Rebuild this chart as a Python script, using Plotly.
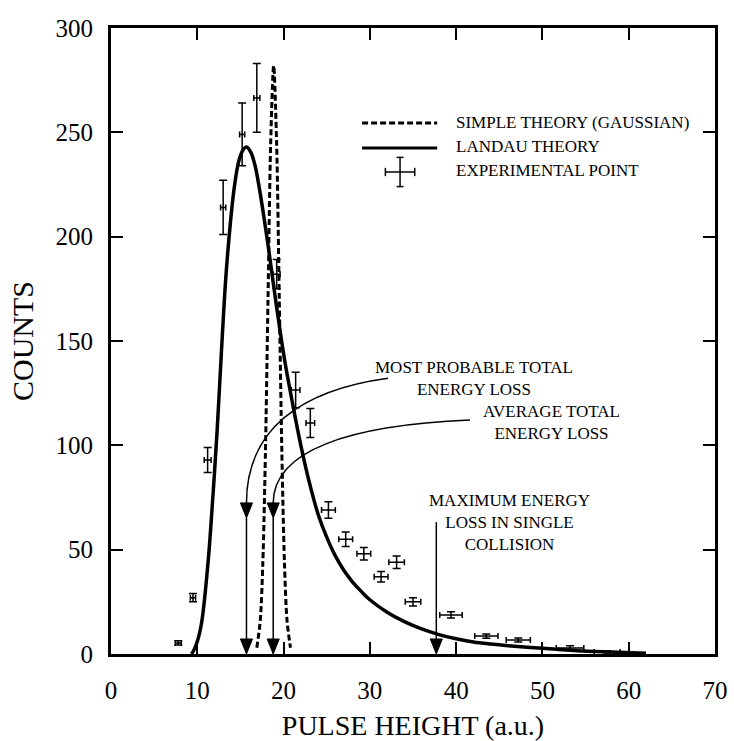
import plotly.graph_objects as go

# ---------------- data ----------------
landau_x = [9.3, 9.5, 10.0, 10.5, 11.25, 11.8, 12.3, 12.8, 13.3, 13.8, 14.3, 14.8, 15.3, 15.7,
            16.2, 16.7, 17.2, 17.7, 18.2, 18.7, 19.2, 19.7, 20.2, 21.0, 22.0, 23.0, 24.0,
            25.0, 26.0, 27.0, 28.0, 29.0, 30.0, 32.0, 34.0, 36.0, 38.0, 40.0, 42.0, 44.0,
            46.0, 50.0, 54.0, 58.0, 62.0]
landau_y = [0, 1, 6, 15, 44, 75, 107, 145, 180, 205, 224, 236, 241.5, 243,
            240.5, 234, 223, 210, 196, 181, 166, 152, 139, 121, 100, 82, 67,
            56, 47, 40, 34.5, 30, 26, 20, 15.5, 12, 9.3, 7.3, 5.8, 4.8,
            4.0, 2.7, 1.6, 0.9, 0.3]

gauss_x = [16.9, 17.3, 17.6, 17.9, 18.2, 18.5, 18.85, 19.2, 19.5, 19.8, 20.1, 20.4, 20.8]
gauss_y = [3, 16, 44, 97, 171, 244, 282, 244, 171, 97, 44, 16, 3]

exp_x = [7.8, 9.5, 11.2, 13.0, 15.2, 16.9, 19.2, 21.4, 23.1, 25.2, 27.2, 29.3, 31.3,
         33.1, 35.0, 39.4, 43.5, 47.2, 53.2, 57.5]
exp_y = [5.3, 27, 93, 214, 249, 266.5, 182, 126.5, 110.7, 69, 55, 48, 37,
         44, 25, 18.7, 8.6, 6.7, 2.9, 1.0]
exp_xerr = [0.35, 0.3, 0.4, 0.3, 0.3, 0.35, 0.4, 0.5, 0.5, 0.8, 0.8, 0.8, 0.8,
            0.9, 0.9, 1.3, 1.35, 1.4, 1.6, 1.5]
exp_yerr = [1, 2, 6, 13, 15, 16.5, 7, 8.5, 7, 4, 3.5, 3, 2.5,
            3, 2, 1.5, 1, 1, 1, 0.5]

x_ticks = [0, 10, 20, 30, 40, 50, 60, 70]
y_ticks = [0, 50, 100, 150, 200, 250, 300]

legend_labels = ["SIMPLE THEORY (GAUSSIAN)", "LANDAU THEORY", "EXPERIMENTAL POINT"]

most_probable_x = 15.7
average_x = 18.8
max_loss_x = 37.7

FONT = "Liberation Serif"

fig = go.Figure()

fig.add_trace(go.Scatter(x=landau_x, y=landau_y, mode="lines",
                         line=dict(color="black", width=3.5, shape="spline", smoothing=1.0),
                         showlegend=False, hoverinfo="skip"))
fig.add_trace(go.Scatter(x=gauss_x, y=gauss_y, mode="lines",
                         line=dict(color="black", width=3, dash="6px,3px", shape="spline", smoothing=0.8),
                         showlegend=False, hoverinfo="skip"))
fig.add_trace(go.Scatter(x=exp_x, y=exp_y, mode="markers",
                         marker=dict(size=2, color="black"),
                         error_x=dict(type="data", array=exp_xerr, visible=True, color="black",
                                      thickness=1.5, width=3),
                         error_y=dict(type="data", array=exp_yerr, visible=True, color="black",
                                      thickness=1.5, width=4),
                         showlegend=False, hoverinfo="skip"))

shapes = []
# curved leader lines
shapes.append(dict(type="path", xref="x", yref="y",
                   path=f"M 32.1,132.2 C 21.9,126.5 {most_probable_x},107.3 {most_probable_x},72.4",
                   line=dict(color="black", width=1.5)))
shapes.append(dict(type="path", xref="x", yref="y",
                   path=f"M 41.6,112.1 C 27.7,109.7 {average_x},97.7 {average_x},72.4",
                   line=dict(color="black", width=1.5)))


def tri(xc, ytop, ytip, hw=0.7):
    return dict(type="path", xref="x", yref="y",
                path=f"M {xc-hw},{ytop} L {xc+hw},{ytop} L {xc},{ytip} Z",
                fillcolor="black", line=dict(color="black", width=1))


for xc in (most_probable_x, average_x):
    shapes.append(tri(xc, 72.4, 65.2))
    shapes.append(dict(type="line", xref="x", yref="y", x0=xc, x1=xc, y0=65.2, y1=5,
                       line=dict(color="black", width=1.5)))
    shapes.append(tri(xc, 7.2, 0))
shapes.append(dict(type="line", xref="x", yref="y", x0=max_loss_x, x1=max_loss_x, y0=63.2, y1=5,
                   line=dict(color="black", width=1.5)))
shapes.append(tri(max_loss_x, 7.2, 0))

# legend glyphs
shapes.append(dict(type="line", xref="x", yref="y", x0=29.1, x1=37.8, y0=254.5, y1=254.5,
                   line=dict(color="black", width=3, dash="6px,3px")))
shapes.append(dict(type="line", xref="x", yref="y", x0=29.1, x1=37.8, y0=242.5, y1=242.5,
                   line=dict(color="black", width=3)))
shapes.append(dict(type="line", xref="x", yref="y", x0=31.8, x1=35.2, y0=231, y1=231,
                   line=dict(color="black", width=1.5)))
shapes.append(dict(type="line", xref="x", yref="y", x0=33.5, x1=33.5, y0=224, y1=238,
                   line=dict(color="black", width=1.5)))
for xe in (31.8, 35.2):
    shapes.append(dict(type="line", xref="x", yref="y", x0=xe, x1=xe, y0=229, y1=233,
                       line=dict(color="black", width=1.5)))
for ye in (224, 238):
    shapes.append(dict(type="line", xref="x", yref="y", x0=33.1, x1=33.9, y0=ye, y1=ye,
                       line=dict(color="black", width=1.5)))

annotations = []
for lab, yy in zip(legend_labels, (254.5, 243, 231.5)):
    annotations.append(dict(x=39.7, y=yy, xref="x", yref="y", text=lab, showarrow=False,
                            xanchor="left", yanchor="middle",
                            font=dict(family=FONT, size=17, color="black")))
annotations.append(dict(x=42.06, y=132.0, xref="x", yref="y",
                        text="MOST PROBABLE TOTAL<br>ENERGY LOSS", showarrow=False,
                        align="center", font=dict(family=FONT, size=17, color="black")))
annotations.append(dict(x=51.1, y=110.8, xref="x", yref="y",
                        text="AVERAGE TOTAL<br>ENERGY LOSS", showarrow=False,
                        align="center", font=dict(family=FONT, size=17, color="black")))
annotations.append(dict(x=46.2, y=62.8, xref="x", yref="y",
                        text="MAXIMUM ENERGY<br>LOSS IN SINGLE<br>COLLISION", showarrow=False,
                        align="center", font=dict(family=FONT, size=17, color="black")))

axis_common = dict(showline=True, linecolor="black", linewidth=3, mirror="ticks",
                   ticks="inside", ticklen=12, tickwidth=1.5, tickcolor="black",
                   showgrid=False, zeroline=False, automargin=False,
                   tickfont=dict(family=FONT, size=25, color="black"))

fig.update_layout(
    width=734, height=741,
    margin=dict(l=111, r=19, t=28, b=87),
    paper_bgcolor="white", plot_bgcolor="white",
    shapes=shapes, annotations=annotations,
    xaxis=dict(range=[0, 70], tickvals=x_ticks, ticktext=[str(v) for v in x_ticks],
               title=dict(text="PULSE HEIGHT (a.u.)", font=dict(family=FONT, size=28, color="black"),
                          standoff=15),
               ticklabelstandoff=12, **axis_common),
    yaxis=dict(range=[0, 300], tickvals=y_ticks, ticktext=[str(v) for v in y_ticks],
               title=dict(text="COUNTS", font=dict(family=FONT, size=30, color="black"),
                          standoff=14),
               ticklabelstandoff=10, **axis_common),
)

fig.write_html("out.html")
